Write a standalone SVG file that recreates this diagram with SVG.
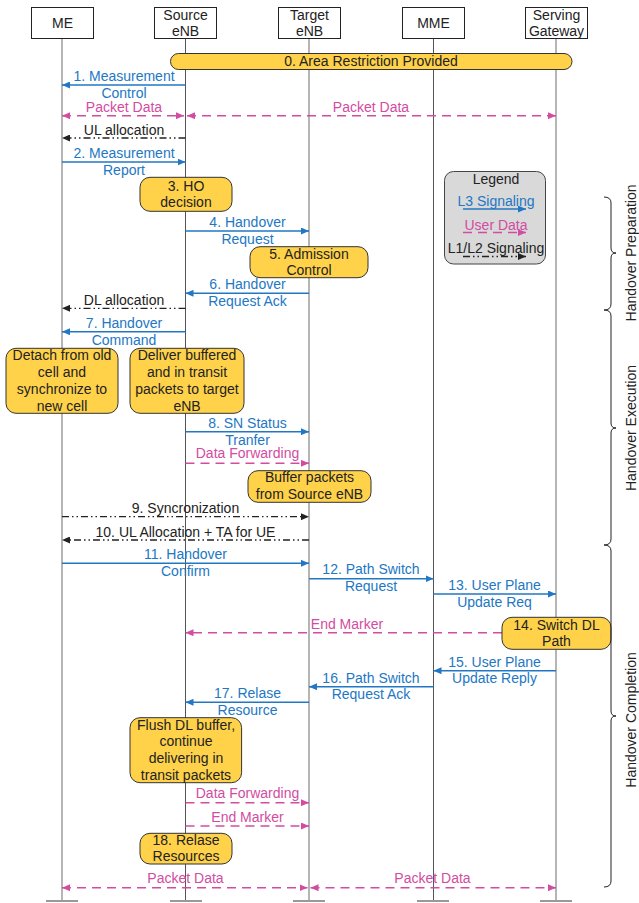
<svg xmlns="http://www.w3.org/2000/svg" width="639" height="903" viewBox="0 0 639 903">
<style>
.t{font-family:"Liberation Sans",Arial,sans-serif;font-size:14px;text-anchor:middle}
.tb{fill:#2277c4}.tp{fill:#d24ca2}.tk{fill:#222}
.box{fill:#fff;stroke:#222;stroke-width:1}
.lt{stroke:#b5b5b5;stroke-width:2;fill:none}
.ld{stroke:#555;stroke-width:1;fill:none}
.tick{stroke:#999;stroke-width:2}
.pill{fill:#ffd24a;stroke:#333;stroke-width:1}
.l3{stroke:#2277c4;stroke-width:1.5;fill:none;marker-end:url(#mb)}
.ud{stroke:#d24ca2;stroke-width:1.5;stroke-dasharray:9 6;fill:none;marker-end:url(#mp)}
.ud2{marker-start:url(#mp)}
.l12{stroke:#222;stroke-width:1.3;stroke-dasharray:7 3 1.5 3 1.5 3;fill:none;marker-end:url(#mk)}
.brace{stroke:#222;stroke-width:1;fill:none}
</style>
<defs>
<marker id="mb" viewBox="0 0 8 7" refX="8" refY="3.5" markerWidth="8" markerHeight="7" markerUnits="userSpaceOnUse" orient="auto-start-reverse"><path d="M0,0 L8,3.5 L0,7 z" fill="#2277c4"/></marker>
<marker id="mp" viewBox="0 0 8 7" refX="8" refY="3.5" markerWidth="8" markerHeight="7" markerUnits="userSpaceOnUse" orient="auto-start-reverse"><path d="M0,0 L8,3.5 L0,7 z" fill="#d24ca2"/></marker>
<marker id="mk" viewBox="0 0 8 7" refX="8" refY="3.5" markerWidth="8" markerHeight="7" markerUnits="userSpaceOnUse" orient="auto-start-reverse"><path d="M0,0 L8,3.5 L0,7 z" fill="#222"/></marker>
</defs>

<g id="lifelines">
<g id="me">
<line class="lt" x1="62" y1="38.5" x2="62" y2="901"/>
<line class="tick" x1="46" y1="901" x2="78" y2="901"/>
<rect class="box" x="31.5" y="7.5" width="62" height="31"/>
<text class="t tk" x="62.5" y="27.5">ME</text>
</g>
<g id="source-enb">
<line class="ld" x1="185.5" y1="38.5" x2="185.5" y2="901"/>
<line class="tick" x1="170" y1="901" x2="202" y2="901"/>
<rect class="box" x="154.5" y="7.5" width="62" height="31"/>
<text class="t tk" x="185.5" y="19.5">Source</text>
<text class="t tk" x="185.5" y="36">eNB</text>
</g>
<g id="target-enb">
<line class="lt" x1="309" y1="38.5" x2="309" y2="901"/>
<line class="tick" x1="293" y1="901" x2="325" y2="901"/>
<rect class="box" x="278.5" y="7.5" width="62" height="31"/>
<text class="t tk" x="309.5" y="19.5">Target</text>
<text class="t tk" x="309.5" y="36">eNB</text>
</g>
<g id="mme">
<line class="ld" x1="433.5" y1="38.5" x2="433.5" y2="901"/>
<line class="tick" x1="417" y1="901" x2="449" y2="901"/>
<rect class="box" x="402.5" y="7.5" width="62" height="31"/>
<text class="t tk" x="433.5" y="27.5">MME</text>
</g>
<g id="serving-gateway">
<line class="lt" x1="556" y1="38.5" x2="556" y2="901"/>
<line class="tick" x1="540" y1="901" x2="572" y2="901"/>
<rect class="box" x="525.5" y="7.5" width="62" height="31"/>
<text class="t tk" x="556.5" y="19.5">Serving</text>
<text class="t tk" x="556.5" y="36">Gateway</text>
</g>
</g>

<g id="connectors">
<line class="l3" x1="185.5" y1="85" x2="62" y2="85"/>
<line class="ud ud2" x1="62" y1="115.7" x2="184" y2="115.7"/>
<line class="ud ud2" x1="187" y1="115.7" x2="556" y2="115.7"/>
<line class="l12" x1="185.5" y1="138" x2="62" y2="138"/>
<line class="l3" x1="62" y1="162" x2="185.5" y2="162"/>
<line class="l3" x1="185.5" y1="231" x2="309" y2="231"/>
<line class="l3" x1="309" y1="293.3" x2="185.5" y2="293.3"/>
<line class="l12" x1="185.5" y1="308.3" x2="62" y2="308.3"/>
<line class="l3" x1="185.5" y1="331.7" x2="62" y2="331.7"/>
<line class="l3" x1="185.5" y1="431.7" x2="309" y2="431.7"/>
<line class="ud" x1="185.5" y1="463.3" x2="309" y2="463.3"/>
<line class="l12" x1="62" y1="516.7" x2="309" y2="516.7"/>
<line class="l12" x1="309" y1="540" x2="62" y2="540"/>
<line class="l3" x1="62" y1="563.3" x2="309" y2="563.3"/>
<line class="l3" x1="309" y1="578.7" x2="433.5" y2="578.7"/>
<line class="l3" x1="433.5" y1="594" x2="556" y2="594"/>
<line class="ud" x1="502" y1="632.7" x2="185.5" y2="632.7"/>
<line class="l3" x1="556" y1="670.7" x2="433.5" y2="670.7"/>
<line class="l3" x1="433.5" y1="686.7" x2="309" y2="686.7"/>
<line class="l3" x1="309" y1="702.3" x2="185.5" y2="702.3"/>
<line class="ud" x1="185.5" y1="802.7" x2="309" y2="802.7"/>
<line class="ud" x1="185.5" y1="826" x2="309" y2="826"/>
<line class="ud ud2" x1="62" y1="887.7" x2="307.5" y2="887.7"/>
<line class="ud ud2" x1="310.5" y1="887.7" x2="556" y2="887.7"/>

<text class="t tb" x="124" y="81">1. Measurement</text>
<text class="t tb" x="124" y="98">Control</text>
<text class="t tp" x="124" y="111.7">Packet Data</text>
<text class="t tp" x="371" y="111.7">Packet Data</text>
<text class="t tk" x="124" y="135">UL allocation</text>
<text class="t tb" x="124" y="158.3">2. Measurement</text>
<text class="t tb" x="124" y="175">Report</text>
<text class="t tb" x="247.5" y="227.3">4. Handover</text>
<text class="t tb" x="247.5" y="244">Request</text>
<text class="t tb" x="247.5" y="289.3">6. Handover</text>
<text class="t tb" x="247.5" y="306">Request Ack</text>
<text class="t tk" x="124" y="305">DL allocation</text>
<text class="t tb" x="124" y="328.3">7. Handover</text>
<text class="t tb" x="124" y="345">Command</text>
<text class="t tb" x="247.5" y="428.3">8. SN Status</text>
<text class="t tb" x="247.5" y="445">Tranfer</text>
<text class="t tp" x="247.5" y="458.3">Data Forwarding</text>
<text class="t tk" x="185.5" y="513.3">9. Syncronization</text>
<text class="t tk" x="185.5" y="536.7">10. UL Allocation + TA for UE</text>
<text class="t tb" x="185.5" y="559.3">11. Handover</text>
<text class="t tb" x="185.5" y="576">Confirm</text>
<text class="t tb" x="371" y="574.3">12. Path Switch</text>
<text class="t tb" x="371" y="591">Request</text>
<text class="t tb" x="494.5" y="590">13. User Plane</text>
<text class="t tb" x="494.5" y="606.7">Update Req</text>
<text class="t tp" x="347" y="629">End Marker</text>
<text class="t tb" x="494.5" y="666.7">15. User Plane</text>
<text class="t tb" x="494.5" y="683.3">Update Reply</text>
<text class="t tb" x="371" y="682.7">16. Path Switch</text>
<text class="t tb" x="371" y="699.3">Request Ack</text>
<text class="t tb" x="247.5" y="698.3">17. Relase</text>
<text class="t tb" x="247.5" y="715">Resource</text>
<text class="t tp" x="247.5" y="798.3">Data Forwarding</text>
<text class="t tp" x="247.5" y="821.7">End Marker</text>
<text class="t tp" x="185.5" y="883.3">Packet Data</text>
<text class="t tp" x="432.5" y="883.3">Packet Data</text>
</g>

<g id="step0-area-restriction">
<rect class="pill" x="170.5" y="53.5" width="401.5" height="16" rx="8"/>
<text class="t tk" x="371" y="66.3">0. Area Restriction Provided</text>
</g>
<g id="step3-ho-decision">
<rect class="pill" x="140" y="177.3" width="92" height="34" rx="10"/>
<text class="t tk" x="186" y="190.7">3. HO</text>
<text class="t tk" x="186" y="206.7">decision</text>
</g>
<g id="step5-admission-control">
<rect class="pill" x="250" y="246.7" width="118" height="31" rx="10"/>
<text class="t tk" x="309" y="258.5">5. Admission</text>
<text class="t tk" x="309" y="275">Control</text>
</g>
<g id="me-detach">
<rect class="pill" x="6" y="348.3" width="112" height="65" rx="10"/>
<text class="t tk" x="62" y="360">Detach from old</text>
<text class="t tk" x="62" y="377">cell and</text>
<text class="t tk" x="62" y="394">synchronize to</text>
<text class="t tk" x="62" y="411">new cell</text>
</g>
<g id="source-deliver">
<rect class="pill" x="130" y="348.3" width="114" height="65" rx="10"/>
<text class="t tk" x="187" y="360">Deliver buffered</text>
<text class="t tk" x="187" y="377">and in transit</text>
<text class="t tk" x="187" y="394">packets to target</text>
<text class="t tk" x="187" y="411">eNB</text>
</g>
<g id="target-buffer">
<rect class="pill" x="248" y="470.7" width="123" height="31.6" rx="10"/>
<text class="t tk" x="309.5" y="482">Buffer packets</text>
<text class="t tk" x="309.5" y="498.5">from Source eNB</text>
</g>
<g id="step14-switch-dl-path">
<rect class="pill" x="502" y="617.3" width="109" height="32" rx="10"/>
<text class="t tk" x="556.5" y="629.5">14. Switch DL</text>
<text class="t tk" x="556.5" y="645.5">Path</text>
</g>
<g id="source-flush">
<rect class="pill" x="130" y="717.7" width="111.6" height="65" rx="10"/>
<text class="t tk" x="186" y="729.5">Flush DL buffer,</text>
<text class="t tk" x="186" y="746.3">continue</text>
<text class="t tk" x="186" y="763.3">delivering in</text>
<text class="t tk" x="186" y="780">transit packets</text>
</g>
<g id="step18-release-resources">
<rect class="pill" x="140" y="833.3" width="92" height="30.7" rx="10"/>
<text class="t tk" x="186" y="845">18. Relase</text>
<text class="t tk" x="186" y="861">Resources</text>
</g>

<g id="legend">
<rect x="444.5" y="171.5" width="101" height="92.5" rx="9" fill="#d9d9d9" stroke="#444" stroke-width="1"/>
<text class="t tk" x="496" y="183.5">Legend</text>
<text class="t tb" x="496" y="206">L3 Signaling</text>
<line class="l3" x1="463" y1="209" x2="526" y2="209"/>
<text class="t tp" x="496" y="229.5">User Data</text>
<line class="ud" x1="463" y1="232.5" x2="526" y2="232.5"/>
<text class="t tk" x="496" y="253">L1/L2 Signaling</text>
<line class="l12" x1="463" y1="256.5" x2="526" y2="256.5"/>
</g>

<g id="phases">
<path class="brace" d="M604,197 Q611,197 611,203 V248 Q611,253 616,253 Q611,253 611,258 V304 Q611,310 604,310"/>
<text class="t tk" transform="translate(636,253) rotate(-90)">Handover Preparation</text>
<path class="brace" d="M604,310 Q611,310 611,316 V423 Q611,428 616,428 Q611,428 611,433 V539 Q611,545 604,545"/>
<text class="t tk" transform="translate(636,428) rotate(-90)">Handover Execution</text>
<path class="brace" d="M604,545 Q611,545 611,551 V711 Q611,716 616,716 Q611,716 611,721 V881 Q611,887 604,887"/>
<text class="t tk" transform="translate(636,720) rotate(-90)">Handover Completion</text>
</g>
</svg>
